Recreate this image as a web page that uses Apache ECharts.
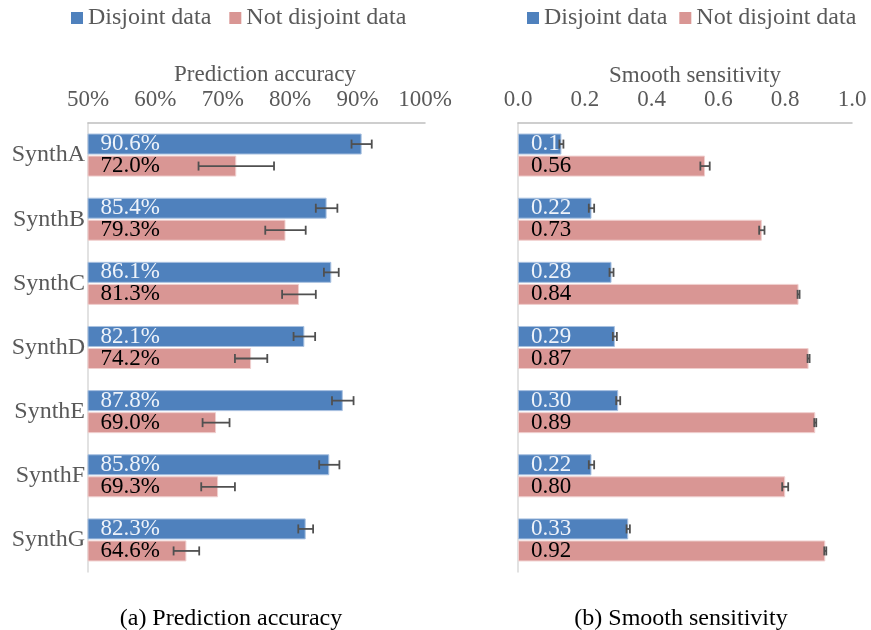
<!DOCTYPE html>
<html>
<head>
<meta charset="utf-8">
<script src="https://cdn.jsdelivr.net/npm/echarts@6/dist/echarts.min.js"></script>
<style>
  html, body { margin: 0; padding: 0; background: #fff; }
  #chart { width: 871px; height: 630px; }
</style>
</head>
<body>
<div id="chart"></div>
<script>
// data
const categories = ['SynthA', 'SynthB', 'SynthC', 'SynthD', 'SynthE', 'SynthF', 'SynthG']

const accDisjoint = [90.6, 85.4, 86.1, 82.1, 87.8, 85.8, 82.3]
const accNotDisjoint = [72.0, 79.3, 81.3, 74.2, 69.0, 69.3, 64.6]
const accDisjointErr = [1.5, 1.6, 1.1, 1.6, 1.6, 1.5, 1.1]
const accNotDisjointErr = [5.6, 3.0, 2.5, 2.4, 2.0, 2.5, 1.9]

const sensDisjoint = [0.13, 0.22, 0.28, 0.29, 0.30, 0.22, 0.33]
const sensNotDisjoint = [0.56, 0.73, 0.84, 0.87, 0.89, 0.80, 0.92]
const sensDisjointLabels = ['0.1', '0.22', '0.28', '0.29', '0.30', '0.22', '0.33']
const sensNotDisjointLabels = ['0.56', '0.73', '0.84', '0.87', '0.89', '0.80', '0.92']
const sensDisjointErr = [0.006, 0.008, 0.006, 0.006, 0.006, 0.008, 0.005]
const sensNotDisjointErr = [0.014, 0.008, 0.003, 0.003, 0.003, 0.009, 0.003]

const FONT = 'Liberation Serif'
const GREY = '#595959'
const BLUE = '#4f81bd'
const PINK = '#d99694'
const BAR_W = 21
const OFFSET = 11

const chart = echarts.init(document.getElementById('chart'))

// error bar drawn with a custom series, shifted onto its bar
const errorBar = (offset) => (params, api) => {
  const v = api.value(0)
  const c = api.value(1)
  const e = api.value(2)
  const lo = api.coord([v - e, c])
  const hi = api.coord([v + e, c])
  const y = lo[1] + offset
  const h = 4.5
  const style = { stroke: '#505050', lineWidth: 1.8 }
  return {
    type: 'group',
    children: [
      { type: 'line', shape: { x1: lo[0], y1: y, x2: hi[0], y2: y }, style },
      { type: 'line', shape: { x1: lo[0], y1: y - h, x2: lo[0], y2: y + h }, style },
      { type: 'line', shape: { x1: hi[0], y1: y - h, x2: hi[0], y2: y + h }, style }
    ]
  }
}

const xAxisBase = (gridIndex) => ({
  gridIndex,
  type: 'value',
  position: 'top',
  axisLine: { show: true, lineStyle: { color: '#bfbfbf', width: 1.5 } },
  axisTick: { show: false },
  splitLine: { show: false },
  axisLabel: { fontFamily: FONT, fontSize: 23, color: GREY, margin: 12 }
})

const yAxisBase = (gridIndex, showLabels) => ({
  gridIndex,
  type: 'category',
  inverse: true,
  data: categories,
  axisLine: { show: true, lineStyle: { color: '#d9d9d9', width: 1.5 } },
  axisTick: { show: false },
  axisLabel: { show: showLabels, fontFamily: FONT, fontSize: 24, color: GREY, margin: 3 }
})

const barSeries = (name, idx, data, color, borderColor, labelColor, labels) => ({
  name,
  type: 'bar',
  xAxisIndex: idx,
  yAxisIndex: idx,
  data,
  barWidth: BAR_W,
  barGap: '5%',
  itemStyle: { color, borderColor, borderWidth: 1 },
  label: {
    show: true,
    position: 'insideLeft',
    distance: 13,
    fontFamily: FONT,
    fontSize: 23,
    color: labelColor,
    formatter: (p) => labels[p.dataIndex]
  }
})

const errSeries = (idx, values, errs, offset) => ({
  type: 'custom',
  xAxisIndex: idx,
  yAxisIndex: idx,
  renderItem: errorBar(offset),
  encode: { x: 0, y: 1 },
  data: values.map((v, i) => [v, i, errs[i]]),
  z: 5,
  silent: true
})

const legendBase = (left, gap) => ({
  left,
  top: 1,
  icon: 'rect',
  itemWidth: 12,
  itemHeight: 12,
  itemGap: gap,
  itemStyle: { borderWidth: 0 },
  data: ['Disjoint data', 'Not disjoint data'],
  textStyle: { fontFamily: FONT, fontSize: 24, color: GREY }
})

const textAt = (x, y, text, size, fill) => ({
  type: 'text', x, y,
  style: { text, font: size + 'px ' + FONT, fill, align: 'center', verticalAlign: 'middle' }
})

chart.setOption({
  backgroundColor: '#fff',
  animation: false,
  legend: [legendBase(66, 18), legendBase(522, 12)],
  grid: [
    { left: 88, right: 446, top: 123, bottom: 58 },
    { left: 518, right: 19, top: 123, bottom: 58 }
  ],
  xAxis: [
    Object.assign(xAxisBase(0), {
      min: 50, max: 100, interval: 10,
      axisLabel: Object.assign(xAxisBase(0).axisLabel, { formatter: '{value}%' })
    }),
    Object.assign(xAxisBase(1), {
      min: 0, max: 1, interval: 0.2,
      axisLabel: Object.assign(xAxisBase(1).axisLabel, { formatter: (v) => v.toFixed(1) })
    })
  ],
  yAxis: [yAxisBase(0, true), yAxisBase(1, false)],
  graphic: [
    textAt(265, 75, 'Prediction accuracy', 23, GREY),
    textAt(695, 76, 'Smooth sensitivity', 23, GREY),
    textAt(231, 619, '(a) Prediction accuracy', 24, '#000'),
    textAt(681, 619, '(b) Smooth sensitivity', 24, '#000')
  ],
  series: [
    barSeries('Disjoint data', 0, accDisjoint, BLUE, '#a9c1e0', '#eef3fa', accDisjoint.map(v => v.toFixed(1) + '%')),
    barSeries('Not disjoint data', 0, accNotDisjoint, PINK, '#f0d0cf', '#000', accNotDisjoint.map(v => v.toFixed(1) + '%')),
    barSeries('Disjoint data', 1, sensDisjoint, BLUE, '#a9c1e0', '#eef3fa', sensDisjointLabels),
    barSeries('Not disjoint data', 1, sensNotDisjoint, PINK, '#f0d0cf', '#000', sensNotDisjointLabels),
    errSeries(0, accDisjoint, accDisjointErr, -OFFSET),
    errSeries(0, accNotDisjoint, accNotDisjointErr, OFFSET),
    errSeries(1, sensDisjoint, sensDisjointErr, -OFFSET),
    errSeries(1, sensNotDisjoint, sensNotDisjointErr, OFFSET)
  ]
})
</script>
</body>
</html>
